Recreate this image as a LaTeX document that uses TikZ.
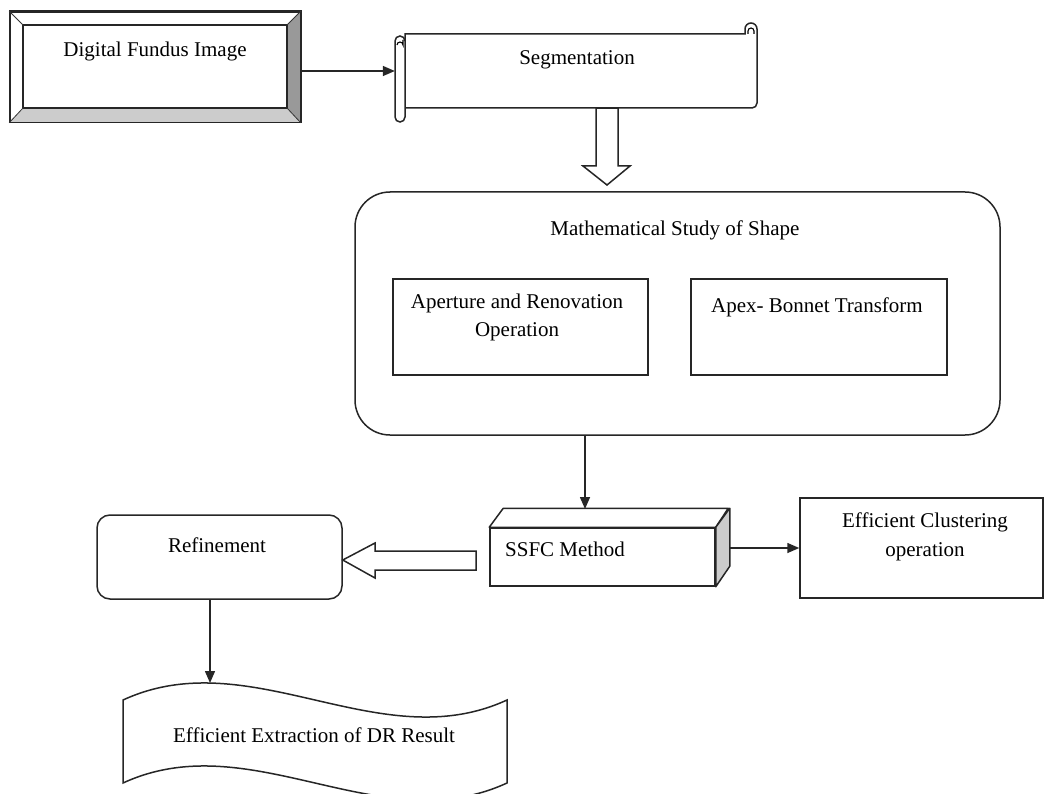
\documentclass[tikz,border=0pt]{standalone}
\usepackage{fontspec}
\setmainfont{Liberation Serif}
\usetikzlibrary{arrows.meta,calc}
\definecolor{gsix}{gray}{0.6}
\definecolor{geight}{gray}{0.8}
\begin{document}
\begin{tikzpicture}[x=1pt,y=-1pt,
  ln/.style={line width=1.5pt,draw=black!85},
  box/.style={ln,rectangle,fill=white,inner sep=0pt},
  txt/.style={inner sep=0pt,font=\fontsize{21}{28}\selectfont},
  arr/.style={ln,-{Triangle[length=12pt,width=10pt]}},
  hollow/.style={ln,fill=white,line join=miter}]
\useasboundingbox (0,0) rectangle (1046,794);

% Digital Fundus Image (bevel)
\node[box,minimum width=290pt,minimum height=110pt] (dfi) at (155,67) {};
\fill[gsix] (dfi.north east) -- (dfi.south east) -- (287,108) -- (287,25) -- cycle;
\fill[geight] (dfi.south west) -- (dfi.south east) -- (287,108) -- (23,108) -- cycle;
\draw[ln] (dfi.north west) rectangle (dfi.south east);
\draw[ln] (23,25) rectangle (287,108);
\draw[line width=0.8pt,black!80] (dfi.north west) -- (23,25) (dfi.north east) -- (287,25)
  (dfi.south west) -- (23,108) (dfi.south east) -- (287,108);
\node[txt,anchor=base] (dfit) at (155,57) {Digital Fundus Image};

% Segmentation (scroll)
\node[inner sep=0pt,minimum width=362pt,minimum height=74pt] (seg) at (576,71) {};
\draw[ln,fill=white] (405,34) -- (745,34) -- (745,29) arc[start angle=180,end angle=360,radius=6]
  -- (757,103) arc[start angle=0,end angle=90,radius=5] -- (405,108) -- cycle;
\draw[line width=1.1pt] (748,34) -- (748,31) arc[start angle=180,end angle=360,radius=3] -- (754,34);
\draw[ln,fill=white,rounded corners=5pt] (395,36) rectangle (405,122);
\draw[line width=1.1pt] (397,45) arc[start angle=180,end angle=360,radius=3] -- (403,40);
\node[txt,anchor=base] (segt) at (577,65) {Segmentation};

% hollow down arrow
\draw[hollow] (seg.south -| 596,0) -- (seg.south -| 618,0) -- (618,166) -- (630,166) -- (607,185)
  -- (583,166) -- (596,166) -- cycle;

% Mathematical Study of Shape
\node[box,rounded corners=35pt,minimum width=645pt,minimum height=243pt] (ms) at (677.5,313.5) {};
\node[txt,anchor=base] (mst) at (675,236) {Mathematical Study of Shape};
\node[box,minimum width=255pt,minimum height=96pt] (ar) at (520.5,327) {};
\node[txt,anchor=base] (art1) at (517,308) {Aperture and Renovation};
\node[txt,anchor=base] (art2) at (517,336) {Operation};
\node[box,minimum width=256pt,minimum height=96pt] (ab) at (819,327) {};
\node[txt,anchor=base] (abt) at (817,312) {Apex- Bonnet Transform};

% SSFC Method (3D box)
\node[box,minimum width=225pt,minimum height=58pt] (ssfc) at (602.5,557) {};
\draw[ln,fill=white,line join=round] (ssfc.north west) -- ++(14,-19) -- ++(225,0) -- (ssfc.north east) -- cycle;
\draw[ln,fill=geight,line join=round] (ssfc.north east) -- ++(14,-19) -- ++(0,58) -- (ssfc.south east) -- cycle;
\node[txt,anchor=base west] (ssfct) at (505,556) {SSFC Method};
\coordinate (sst) at (585,509);
\draw[arr] (ms.south -| sst) -- (sst);

% Efficient Clustering operation
\node[box,minimum width=243pt,minimum height=100pt] (cl) at (921.5,548) {};
\node[txt,anchor=base] (clt1) at (925,527) {Efficient Clustering};
\node[txt,anchor=base] (clt2) at (925,556) {operation};
\coordinate (ssr) at (729,548);
\draw[arr] (ssr) -- (cl.west);

% Refinement
\node[box,rounded corners=13pt,minimum width=245pt,minimum height=84pt] (ref) at (219.5,557) {};
\node[txt,anchor=base] (reft) at (217,552) {Refinement};
\draw[hollow] (476,551) -- (375,551) -- (375,543) -- (ref.east |- 0,560) -- (375,578) -- (375,570) -- (476,570) -- cycle;

% Efficient Extraction of DR Result (document)
\node[inner sep=0pt,minimum width=384pt,minimum height=83pt] (doc) at (315,741.5) {};
\draw[ln,fill=white] (123,700) .. controls (251,641) and (379,759) .. (507,700) -- (507,783)
  .. controls (379,842) and (251,724) .. (123,783) -- cycle;
\node[txt,anchor=base] (doct) at (314,742) {Efficient Extraction of DR Result};
\coordinate (dtop) at (210,683);
\draw[arr] (ref.south -| dtop) -- (dtop);

% Digital Fundus Image -> Segmentation
\draw[arr] (dfi.east |- seg.west) -- (seg.west);
\end{tikzpicture}
\end{document}
